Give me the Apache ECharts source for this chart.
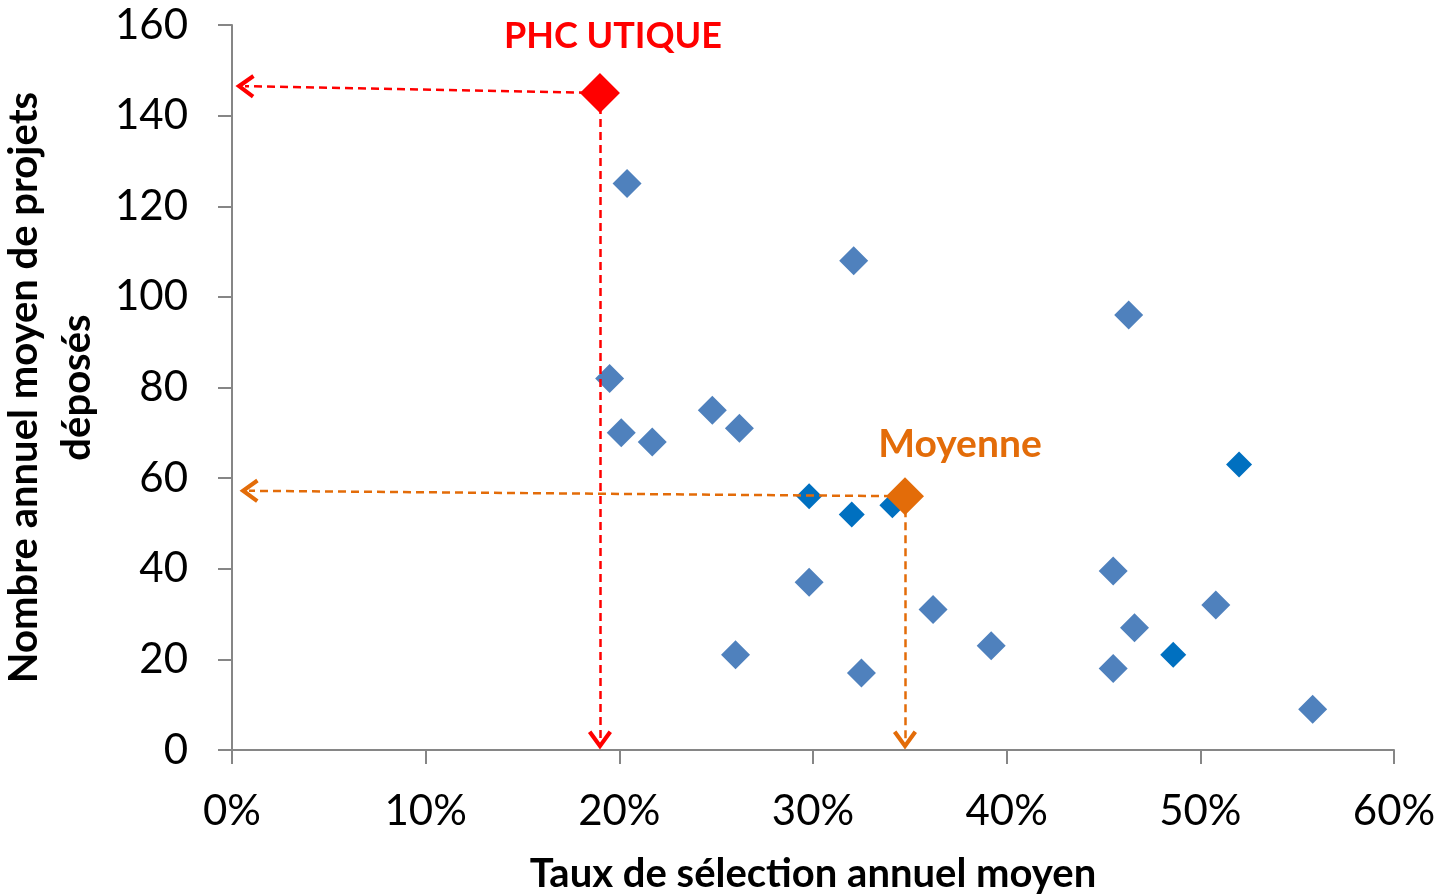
<!DOCTYPE html>
<html>
<head>
<meta charset="utf-8">
<script src="https://cdn.jsdelivr.net/npm/echarts@6/dist/echarts.min.js"></script>
<style>html,body{margin:0;padding:0;background:#fff}#c{width:1445px;height:896px}</style>
</head>
<body>
<div id="c"></div>
<script>
// Data (x = taux de sélection, y = nombre de projets)
const lightBlue = [
  [0.204,125],[0.321,108],[0.463,96],[0.195,82],[0.248,75],[0.201,70],[0.262,71],[0.217,68],
  [0.298,37],[0.362,31],[0.455,39.5],[0.466,27],[0.508,32],[0.392,23],[0.260,21],[0.325,17],
  [0.455,18],[0.558,9]
];
const darkBlue = [[0.298,56],[0.320,52],[0.341,54],[0.486,21],[0.520,63]];
const phc = [[0.190,145]];
const moyenne = [[0.3475,56]];
// arrow start / end (arrowhead centre) positions
const phcArrows = [[[0.190,145],[0.0067,146.5]],[[0.190,145],[0.190,2.2]]];
const moyArrows = [[[0.3475,56],[0.0088,57.2]],[[0.3475,56],[0.3475,2.2]]];
const xTicks = {min:0, max:0.6, interval:0.1};
const yTicks = {min:0, max:160, interval:20};

const FONT = 'Lato';
const chev = 'path://M5,0 L10,8.4 L8.6,9.6 L5,3.6 L1.4,9.6 L0,8.4 Z';

function arrowSeries(pairs, color){
  return {
    type:'scatter', data:[], silent:true, z:5,
    itemStyle:{color:color},
    markLine:{
      silent:true, animation:false,
      symbol:['none','none'],
      label:{show:false},
      emphasis:{disabled:true},
      lineStyle:{color:color, width:2.5, type:[8,5], opacity:1},
      data: pairs.map(p=>[
        {coord:p[0], symbol:'none', symbolSize:0},
        {coord:p[1], symbol:chev, symbolSize:[24,19], itemStyle:{color:color}}
      ])
    }
  };
}

const chart = echarts.init(document.getElementById('c'));
chart.setOption({
  animation:false,
  grid:{left:232, right:51, top:25, bottom:146, containLabel:false, outerBoundsMode:'none'},
  xAxis:{
    type:'value', min:xTicks.min, max:xTicks.max, interval:xTicks.interval,
    name:'Taux de sélection annuel moyen', nameLocation:'middle', nameGap:104,
    nameTextStyle:{fontFamily:FONT, fontWeight:'bold', fontSize:40, color:'#000'},
    axisLine:{lineStyle:{color:'#868686', width:2}},
    axisTick:{show:true, length:14, lineStyle:{color:'#868686', width:2}},
    splitLine:{show:false},
    axisLabel:{margin:40, fontFamily:FONT, fontSize:42, color:'#000',
      formatter:v=>Math.round(v*100)+'%'}
  },
  yAxis:{
    type:'value', min:yTicks.min, max:yTicks.max, interval:yTicks.interval,
    name:'Nombre annuel moyen de projets\ndéposés', nameLocation:'middle', nameGap:117, nameRotate:90,
    nameTextStyle:{fontFamily:FONT, fontWeight:'bold', fontSize:40, color:'#000', lineHeight:53, align:'center'},
    axisLine:{show:true, lineStyle:{color:'#868686', width:2}},
    axisTick:{show:true, length:14, lineStyle:{color:'#868686', width:2}},
    splitLine:{show:false},
    axisLabel:{margin:44, fontFamily:FONT, fontSize:42, color:'#000'}
  },
  series:[
    {type:'scatter', data:lightBlue, symbol:'diamond', symbolSize:29, itemStyle:{color:'#4F81BD', opacity:1}, z:2},
    {type:'scatter', data:darkBlue, symbol:'diamond', symbolSize:26, itemStyle:{color:'#0070C0', opacity:1}, z:3},
    arrowSeries(phcArrows, '#FF0000'),
    arrowSeries(moyArrows, '#E36C09'),
    {type:'scatter', data:phc, symbol:'diamond', symbolSize:40, itemStyle:{color:'#FF0000', opacity:1}, z:6,
      label:{show:true, formatter:'PHC UTIQUE', position:'top', offset:[13,-14],
        fontFamily:FONT, fontWeight:'bold', fontSize:36, color:'#FF0000'}},
    {type:'scatter', data:moyenne, symbol:'diamond', symbolSize:38, itemStyle:{color:'#E36C09', opacity:1}, z:6,
      label:{show:true, formatter:'Moyenne', position:'top', offset:[55,-8],
        fontFamily:FONT, fontWeight:'bold', fontSize:39, color:'#E36C09'}}
  ]
});
</script>
</body>
</html>
